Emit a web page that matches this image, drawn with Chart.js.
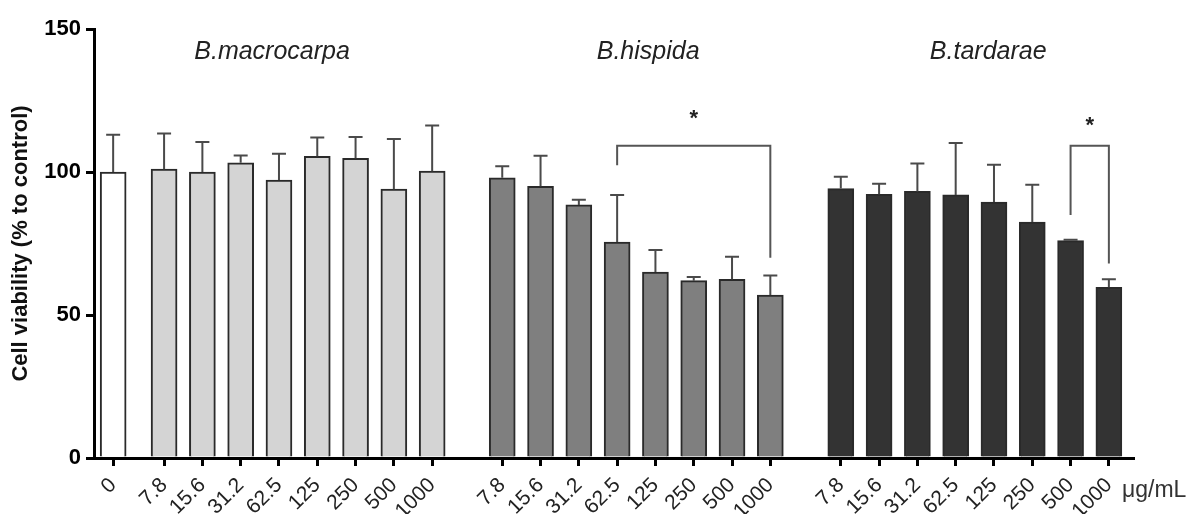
<!DOCTYPE html>
<html>
<head>
<meta charset="utf-8">
<script src="https://cdn.jsdelivr.net/npm/chart.js@4"></script>
<style>
  body { margin: 0; background: #fff; }
  #wrap { position: relative; width: 1196px; height: 514px; }
</style>
</head>
<body>
<div id="wrap"><canvas id="c"></canvas></div>
<script>
// Data (cell viability, % of control)
const doseLabels = ['7.8', '15.6', '31.2', '62.5', '125', '250', '500', '1000'];
const controlLabel = ['0'];
const controlMean = [100];
const controlSd = [13];
const macroMean = [101, 100, 103.2, 97.2, 105.5, 104.8, 94, 100.3];
const macroSd = [12.5, 10.5, 2.6, 9.2, 6.6, 7.4, 17.5, 16];
const hispidaMean = [98, 95, 88.5, 75.5, 65, 62, 62.5, 57];
const hispidaSd = [4, 10.7, 1.8, 16.5, 7.7, 1.3, 7.9, 6.8];
const tardaraeMean = [94.2, 92.2, 93.2, 92, 89.5, 82.5, 76, 59.7];
const tardaraeSd = [4.1, 3.7, 9.8, 18.1, 13, 13, 0.3, 2.8];
const groupNames = ['B.macrocarpa', 'B.hispida', 'B.tardarae'];
const yTicks = [0, 50, 100, 150];

// significance brackets: group, from/to dose index, bar height, leg ends, star height
const brackets = [
  { group: 1, from: 3, to: 7, top: 109.2, leftEnd: 102.4, rightEnd: 70, star: 120 },
  { group: 2, from: 6, to: 7, top: 109.2, leftEnd: 85, rightEnd: 68, star: 117.5 }
];

// layout: slot positions of each group on the x axis
const groupStart = [1.33, 10.16, 19.0];
const titlePos = [4.15, 13.97, 22.85];

const pos = (g, i) => groupStart[g] + i;
const tickPos = [0];
const tickText = [controlLabel[0]];
for (let g = 0; g < 3; g++) {
  doseLabels.forEach((d, i) => { tickPos.push(pos(g, i)); tickText.push(d); });
}

const toPts = (g, arr) => arr.map((v, i) => ({ x: pos(g, i), y: v }));
const errors = [controlSd, macroSd, hispidaSd, tardaraeSd];
const FONT = '"Liberation Sans", Arial, sans-serif';

const errorBars = {
  id: 'errorBars',
  afterDatasetsDraw(chart) {
    const ctx = chart.ctx;
    const y = chart.scales.y;
    const x = chart.scales.x;
    ctx.save();
    ctx.strokeStyle = '#4a4a4a';
    ctx.lineWidth = 2;
    chart.data.datasets.forEach((ds, di) => {
      const meta = chart.getDatasetMeta(di);
      meta.data.forEach((bar, j) => {
        const v = ds.data[j].y;
        const top = y.getPixelForValue(v + errors[di][j]);
        const base = y.getPixelForValue(v);
        ctx.beginPath();
        ctx.moveTo(bar.x, base);
        ctx.lineTo(bar.x, top);
        ctx.moveTo(bar.x - 7, top);
        ctx.lineTo(bar.x + 7, top);
        ctx.stroke();
      });
    });

    // brackets
    ctx.strokeStyle = '#555';
    ctx.lineWidth = 2;
    ctx.fillStyle = '#222';
    ctx.font = 'bold 22px ' + FONT;
    ctx.textAlign = 'center';
    ctx.textBaseline = 'middle';
    brackets.forEach(b => {
      const x1 = x.getPixelForValue(pos(b.group, b.from));
      const x2 = x.getPixelForValue(pos(b.group, b.to));
      const yt = y.getPixelForValue(b.top);
      ctx.beginPath();
      ctx.moveTo(x1, y.getPixelForValue(b.leftEnd));
      ctx.lineTo(x1, yt);
      ctx.lineTo(x2, yt);
      ctx.lineTo(x2, y.getPixelForValue(b.rightEnd));
      ctx.stroke();
      ctx.fillText('*', (x1 + x2) / 2, y.getPixelForValue(b.star) + 4);
    });

    // group titles
    ctx.fillStyle = '#222';
    ctx.font = 'italic 25px ' + FONT;
    groupNames.forEach((n, g) => {
      ctx.fillText(n, x.getPixelForValue(titlePos[g]), y.getPixelForValue(142));
    });

    // unit label
    ctx.font = '23px ' + FONT;
    ctx.textAlign = 'left';
    ctx.fillStyle = '#333';
    ctx.fillText('\u03bcg/mL', x.right - 11, 491);
    ctx.restore();
  }
};

new Chart(document.getElementById('c'), {
  type: 'bar',
  data: {
    datasets: [
      { data: [{ x: 0, y: controlMean[0] }], backgroundColor: '#ffffff' },
      { data: toPts(0, macroMean), backgroundColor: '#d4d4d4' },
      { data: toPts(1, hispidaMean), backgroundColor: '#7f7f7f' },
      { data: toPts(2, tardaraeMean), backgroundColor: '#333333' }
    ].map(d => Object.assign(d, {
      borderColor: '#2a2a2a',
      borderWidth: 2,
      borderSkipped: 'bottom',
      barThickness: 26,
      grouped: false
    }))
  },
  options: {
    responsive: true,
    maintainAspectRatio: false,
    animation: false,
    layout: { padding: { left: 0, right: 63, top: 29, bottom: 0 } },
    plugins: { legend: { display: false }, tooltip: { enabled: false } },
    scales: {
      x: {
        type: 'linear',
        min: -0.5,
        max: 26.63,
        offset: false,
        afterBuildTicks: s => { s.ticks = tickPos.map(v => ({ value: v })); },
        afterFit: s => { s.height = 56; },
        grid: { display: true, drawOnChartArea: false, offset: false, tickLength: 8, lineWidth: 3, color: '#000' },
        border: { display: true, width: 3, color: '#000' },
        ticks: {
          autoSkip: false,
          minRotation: 45,
          maxRotation: 45,
          padding: 7,
          color: '#222',
          font: { size: 21, family: FONT },
          callback: (v, i) => tickText[i]
        }
      },
      y: {
        min: 0,
        max: 150,
        afterBuildTicks: s => { s.ticks = yTicks.map(v => ({ value: v })); },
        afterFit: s => { s.width = 94; },
        grid: { display: true, drawOnChartArea: false, tickLength: 8, lineWidth: 3, color: '#000' },
        border: { display: true, width: 3, color: '#000' },
        ticks: {
          color: '#000',
          padding: 5,
          font: { size: 22, weight: 'bold', family: FONT }
        },
        title: {
          display: true,
          text: 'Cell viability (% to control)',
          color: '#111',
          padding: { top: 8, bottom: 0 },
          font: { size: 22, weight: 'bold', family: FONT }
        }
      }
    }
  },
  plugins: [errorBars]
});
</script>
</body>
</html>
